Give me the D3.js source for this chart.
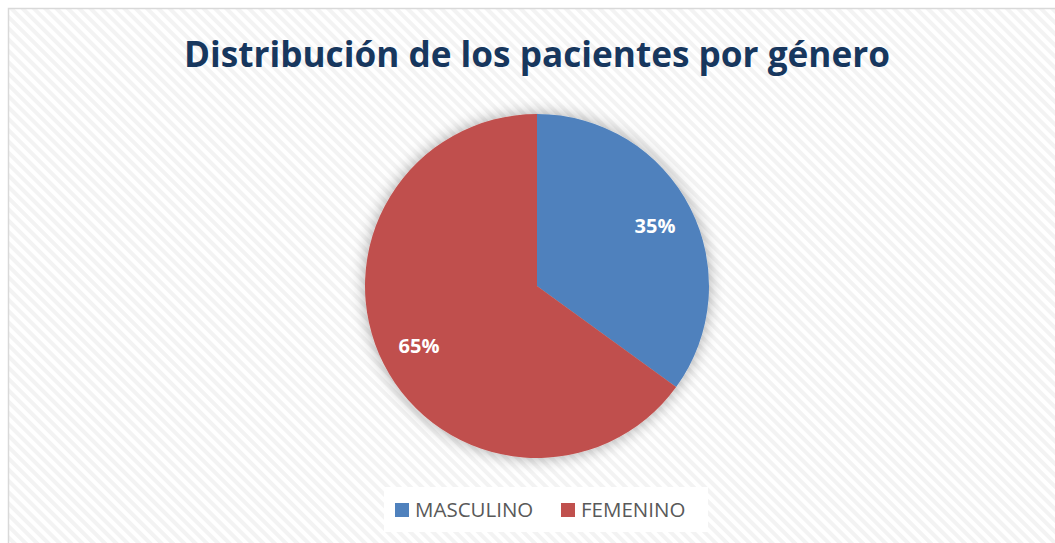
<!DOCTYPE html>
<html>
<head>
<meta charset="utf-8">
<script src="https://cdn.jsdelivr.net/npm/d3@7"></script>
<style>
  body { margin: 0; background: #fff; }
  svg { display: block; }
</style>
</head>
<body>
<div id="chart"></div>
<script>
var categories = ['MASCULINO', 'FEMENINO'],
    values = [35, 65],
    colors = ['#4f81bd', '#c0504d'],
    title = 'Distribución de los pacientes por género';

var width = 1055,
    height = 543,
    cx = 537,
    cy = 286,
    radius = 172;

var svg = d3.select('#chart')
    .append('svg')
    .attr('width', width)
    .attr('height', height)

var defs = svg.append('defs')

// diagonal stripes in the background
var pattern = defs.append('pattern')
    .attr('id', 'stripes')
    .attr('patternUnits', 'userSpaceOnUse')
    .attr('width', 8)
    .attr('height', 8)
    .attr('patternTransform', 'rotate(-45)')
pattern.append('rect').attr('width', 8).attr('height', 8).attr('fill', '#ffffff')
pattern.append('rect').attr('width', 4).attr('height', 8).attr('fill', '#f3f3f3')

var shadow = defs.append('filter')
    .attr('id', 'shadow')
    .attr('x', '-30%').attr('y', '-30%')
    .attr('width', '160%').attr('height', '160%')
shadow.append('feGaussianBlur').attr('in', 'SourceAlpha').attr('stdDeviation', 8)
shadow.append('feComponentTransfer').append('feFuncA').attr('type', 'linear').attr('slope', 0.35)
var merge = shadow.append('feMerge')
merge.append('feMergeNode')
merge.append('feMergeNode').attr('in', 'SourceGraphic')

svg.append('rect')
    .attr('x', 8.5)
    .attr('y', 8.5)
    .attr('width', width)
    .attr('height', height)
    .attr('fill', 'url(#stripes)')
    .attr('stroke', '#d9d9d9')
    .attr('stroke-width', 1.5)

svg.append('text')
    .attr('x', cx)
    .attr('y', 67)
    .attr('text-anchor', 'middle')
    .style('font-family', 'Open Sans, sans-serif')
    .style('font-weight', 'bold')
    .style('font-size', '35px')
    .style('fill', '#17375e')
    .attr('textLength', 706)
    .attr('lengthAdjust', 'spacingAndGlyphs')
    .text(title)

var pie = d3.pie().sort(null)
var arc = d3.arc().innerRadius(0).outerRadius(radius)
var labelArc = d3.arc().innerRadius(radius * 0.77).outerRadius(radius * 0.77)

var g = svg.append('g')
    .attr('transform', 'translate(' + cx + ',' + cy + ')')

g.append('g')
    .attr('filter', 'url(#shadow)')
    .selectAll('path')
    .data(pie(values))
    .enter()
    .append('path')
    .attr('d', arc)
    .attr('fill', function(d, i) { return colors[i] })

g.selectAll('text')
    .data(pie(values))
    .enter()
    .append('text')
    .attr('transform', function(d) { return 'translate(' + labelArc.centroid(d) + ')' })
    .attr('dy', '0.35em')
    .attr('text-anchor', 'middle')
    .style('font-family', 'Open Sans, sans-serif')
    .style('font-weight', 'bold')
    .style('font-size', '20px')
    .style('fill', '#fff')
    .text(function(d) { return d.data + '%' })

// legend
svg.append('rect')
    .attr('x', 384)
    .attr('y', 487)
    .attr('width', 324)
    .attr('height', 45)
    .attr('fill', '#fff')

var legendX = [395, 561]
var legend = svg.selectAll('.legend')
    .data(categories)
    .enter()
    .append('g')
    .attr('class', 'legend')
    .attr('transform', function(d, i) { return 'translate(' + legendX[i] + ',503)' })

legend.append('rect')
    .attr('width', 14)
    .attr('height', 14)
    .attr('fill', function(d, i) { return colors[i] })

legend.append('text')
    .attr('x', 20)
    .attr('y', 14)
    .style('font-family', 'Open Sans, sans-serif')
    .style('font-size', '20.5px')
    .style('fill', '#595959')
    .text(function(d) { return d })
</script>
</body>
</html>
